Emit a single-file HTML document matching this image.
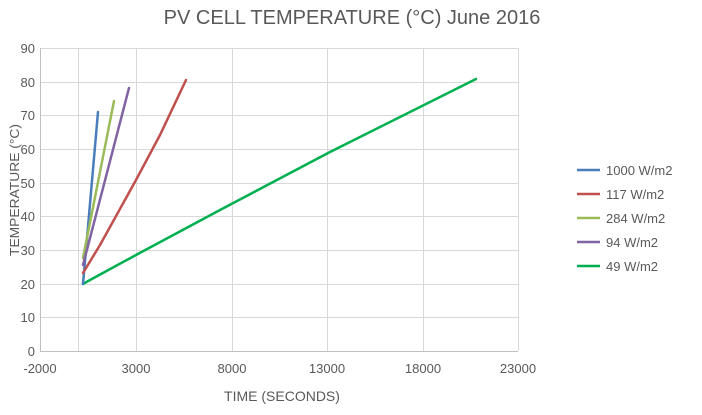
<!DOCTYPE html>
<html><head><style>body{margin:0;background:#fff}svg text{font-family:"Liberation Sans",sans-serif;fill:#595959}</style></head>
<body>
<svg width="702" height="410" xmlns="http://www.w3.org/2000/svg">
<text x="352" y="24" font-size="20" text-anchor="middle">PV CELL TEMPERATURE (°C) June 2016</text>
<g stroke="#d9d9d9" stroke-width="1">
<line x1="40" y1="48.5" x2="518" y2="48.5"/><line x1="40" y1="82.5" x2="518" y2="82.5"/><line x1="40" y1="115.5" x2="518" y2="115.5"/><line x1="40" y1="149.5" x2="518" y2="149.5"/><line x1="40" y1="183.5" x2="518" y2="183.5"/><line x1="40" y1="216.5" x2="518" y2="216.5"/><line x1="40" y1="250.5" x2="518" y2="250.5"/><line x1="40" y1="284.5" x2="518" y2="284.5"/><line x1="40" y1="317.5" x2="518" y2="317.5"/>
<line x1="78.5" y1="48" x2="78.5" y2="351"/><line x1="136.5" y1="48" x2="136.5" y2="351"/><line x1="232.5" y1="48" x2="232.5" y2="351"/><line x1="327.5" y1="48" x2="327.5" y2="351"/><line x1="423.5" y1="48" x2="423.5" y2="351"/><line x1="518.5" y1="48" x2="518.5" y2="351"/>
</g>
<g stroke="#bfbfbf"><line x1="40.5" y1="48" x2="40.5" y2="351"/><line x1="40" y1="351.5" x2="518" y2="351.5"/></g>
<g font-size="13" text-anchor="end">
<text x="35" y="53">90</text><text x="35" y="87">80</text><text x="35" y="120">70</text><text x="35" y="154">60</text><text x="35" y="188">50</text><text x="35" y="221">40</text><text x="35" y="255">30</text><text x="35" y="289">20</text><text x="35" y="322">10</text><text x="35" y="356">0</text>
</g>
<g font-size="13" text-anchor="middle">
<text x="40" y="373">-2000</text><text x="136" y="373">3000</text><text x="232" y="373">8000</text><text x="327" y="373">13000</text><text x="423" y="373">18000</text><text x="518" y="373">23000</text>
</g>
<text x="282" y="401" font-size="14" text-anchor="middle">TIME (SECONDS)</text>
<text transform="translate(19,190) rotate(-90)" font-size="13" text-anchor="middle" textLength="132" lengthAdjust="spacingAndGlyphs">TEMPERATURE (°C)</text>
<g fill="none" stroke-width="2.5" stroke-linecap="round" stroke-linejoin="round">
<polyline stroke="#00b050" points="83,284 90,280 136,255 220,210 330,152 476,79"/>
<polyline stroke="#4a7ebb" points="83,284 98,112"/>
<polyline stroke="#9bbb59" points="83,258 114,101"/>
<polyline stroke="#8064a2" points="83,265 129,88"/>
<polyline stroke="#c0504d" points="83,273 100,245 136,180 160,135 186,80"/>
</g>
<g stroke-width="2.5">
<line x1="577" y1="170" x2="600" y2="170" stroke="#4a7ebb"/>
<line x1="577" y1="194" x2="600" y2="194" stroke="#c0504d"/>
<line x1="577" y1="218" x2="600" y2="218" stroke="#9bbb59"/>
<line x1="577" y1="242" x2="600" y2="242" stroke="#8064a2"/>
<line x1="577" y1="266" x2="600" y2="266" stroke="#00b050"/>
</g>
<g font-size="13">
<text x="606" y="175">1000 W/m2</text><text x="606" y="199">117 W/m2</text><text x="606" y="223">284 W/m2</text><text x="606" y="247">94 W/m2</text><text x="606" y="271">49 W/m2</text>
</g>
</svg>
</body></html>
